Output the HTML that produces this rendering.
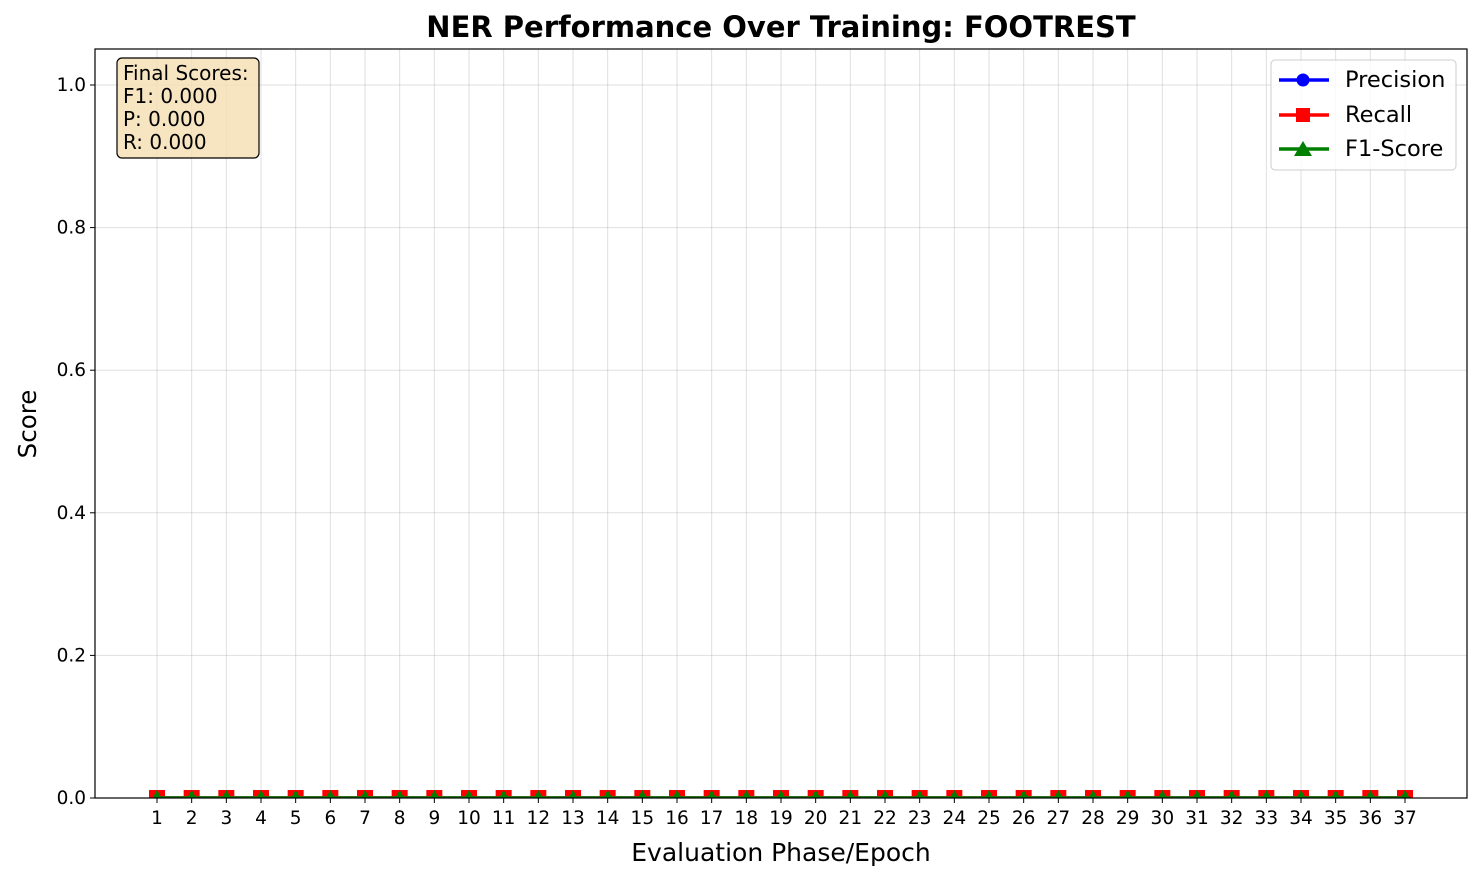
<!DOCTYPE html>
<html><head><meta charset="utf-8"><style>
body{margin:0;background:#fff}
svg{display:block;font-family:"DejaVu Sans","Liberation Sans",sans-serif}
</style></head><body>
<svg id="chart" width="1482" height="880" xmlns="http://www.w3.org/2000/svg">
<defs><clipPath id="clip"><rect x="95" y="49" width="1372" height="749"/></clipPath></defs>
<rect width="1482" height="880" fill="#fff"/>
<g id="grid"></g>
<g id="series" clip-path="url(#clip)"></g>
<rect x="95" y="49" width="1372" height="749" fill="none" stroke="#000" stroke-width="1.2"/>
<g id="ticks"></g>
<text x="781" y="37" text-anchor="middle" style="font-size:29px;font-weight:bold">NER Performance Over Training: FOOTREST</text>
<text x="781" y="861" text-anchor="middle" style="font-size:25px">Evaluation Phase/Epoch</text>
<text x="36" y="424" text-anchor="middle" style="font-size:24.5px" transform="rotate(-90 36 424)">Score</text>
<g>
<rect x="117" y="58" width="142" height="100" rx="5" fill="#f5deb3" fill-opacity="0.8" stroke="#000" stroke-width="1.2"/>
<text style="font-size:20px"><tspan x="123" y="80">Final Scores:</tspan><tspan x="123" y="103">F1: 0.000</tspan><tspan x="123" y="126">P: 0.000</tspan><tspan x="123" y="149">R: 0.000</tspan></text>
</g>
<g>
<rect x="1271" y="60" width="185" height="110" rx="4" fill="#fff" fill-opacity="0.8" stroke="#ccc"/>
<g><line x1="1279" y1="80" x2="1329" y2="80" stroke="blue" stroke-width="3.5"/><circle cx="1303" cy="80" r="6.5" fill="blue"/><text x="1345" y="87" style="font-size:22.5px">Precision</text></g>
<g><line x1="1279" y1="115" x2="1329" y2="115" stroke="red" stroke-width="3.5"/><rect x="1296" y="108" width="14" height="14" fill="red"/><text x="1345" y="122" style="font-size:22.5px">Recall</text></g>
<g><line x1="1279" y1="149" x2="1329" y2="149" stroke="green" stroke-width="3.5"/><polygon points="1303,141 1312,156 1294,156" fill="green"/><text x="1345" y="156" style="font-size:22.5px">F1-Score</text></g>
</g>
</svg>
<script>
const epochs = Array.from({length:37},(_,i)=>i+1);
const precision = [0,0,0,0,0,0,0,0,0,0,0,0,0,0,0,0,0,0,0,0,0,0,0,0,0,0,0,0,0,0,0,0,0,0,0,0,0];
const recall = [0,0,0,0,0,0,0,0,0,0,0,0,0,0,0,0,0,0,0,0,0,0,0,0,0,0,0,0,0,0,0,0,0,0,0,0,0];
const f1 = [0,0,0,0,0,0,0,0,0,0,0,0,0,0,0,0,0,0,0,0,0,0,0,0,0,0,0,0,0,0,0,0,0,0,0,0,0];
const yTicks = [0,0.2,0.4,0.6,0.8,1.0];
const NS="http://www.w3.org/2000/svg";
const X=v=>157+(v-1)*(1248/36);
const Y=v=>798-v*713;
function mk(tag,attrs,parent){const e=document.createElementNS(NS,tag);for(const k in attrs)e.setAttribute(k,attrs[k]);parent.appendChild(e);return e;}
const grid=document.getElementById('grid'),ticks=document.getElementById('ticks'),ser=document.getElementById('series');
epochs.forEach(e=>{
  const g=mk('line',{x1:X(e),x2:X(e),y1:49,y2:798,stroke:'#b0b0b0','stroke-opacity':0.4,'stroke-width':1},grid);
  
  
  mk('line',{x1:X(e),x2:X(e),y1:798,y2:803,stroke:'#000','stroke-width':1},ticks);
  const t=mk('text',{x:X(e),y:824,'text-anchor':'middle',style:'font-size:18.5px'},ticks);t.textContent=e;
  
  
});
yTicks.forEach(v=>{
  const g=mk('line',{x1:95,x2:1467,y1:Y(v),y2:Y(v),stroke:'#b0b0b0','stroke-opacity':0.4,'stroke-width':1},grid);
  
  
  mk('line',{x1:90,x2:95,y1:Y(v),y2:Y(v),stroke:'#000','stroke-width':1},ticks);
  const t=mk('text',{x:86,y:Y(v)+6,'text-anchor':'end',style:'font-size:18.5px'},ticks);t.textContent=v.toFixed(1);
  
  
});
function line(vals,color,name){
  const p=mk('polyline',{points:vals.map((v,i)=>X(epochs[i])+','+Y(v)).join(' '),fill:'none',stroke:color,'stroke-width':3.5},ser);
  
  
}
line(precision,'blue','precision-line');
precision.forEach((v,i)=>{const c=mk('circle',{cx:X(epochs[i]),cy:Y(v),r:6.5,fill:'blue'},ser);
  
  });
line(recall,'red','recall-line');
recall.forEach((v,i)=>{const r=mk('rect',{x:X(epochs[i])-8,y:Y(v)-8,width:16,height:16,fill:'red'},ser);
  
  });
line(f1,'green','f1-line');
f1.forEach((v,i)=>{const x=X(epochs[i]),y=Y(v);const t=mk('polygon',{points:`${x},${y-8} ${x+8},${y+6} ${x-8},${y+6}`,fill:'green'},ser);
  
  });
</script>
</body></html>
